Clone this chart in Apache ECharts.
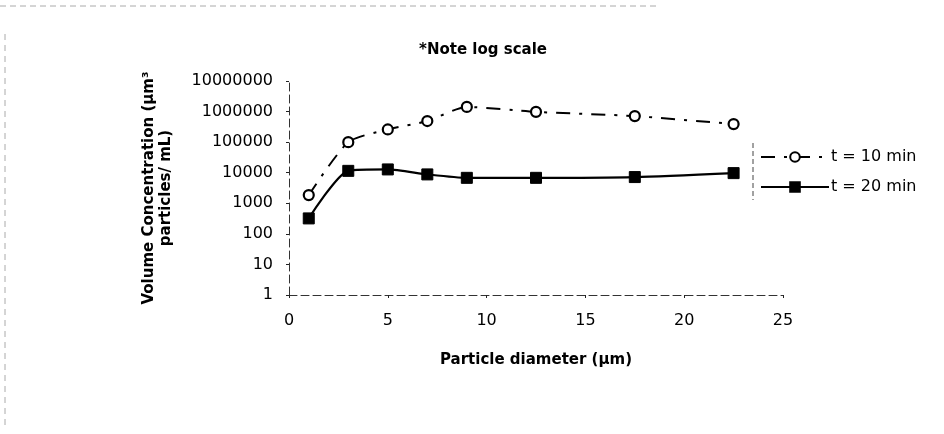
<!DOCTYPE html>
<html>
<head>
<meta charset="utf-8">
<script src="https://cdn.jsdelivr.net/npm/echarts@6/dist/echarts.min.js"></script>
<style>
html,body{margin:0;padding:0;background:#fff;}
#chart{width:944px;height:434px;}
</style>
</head>
<body>
<div id="chart"></div>
<script>
// Data
var diameters = [1, 3, 5, 7, 9, 12.5, 17.5, 22.5];
var conc10 = [1850, 100000, 260000, 490000, 1420000, 980000, 710000, 390000];
var conc20 = [320, 11500, 12800, 8800, 6800, 6800, 7200, 9700];
var seriesNames = ['t = 10 min', 't = 20 min'];
var yTickLabels = ['1', '10', '100', '1000', '10000', '100000', '1000000', '10000000'];
var xTickLabels = ['0', '5', '10', '15', '20', '25'];

function pairs(xs, ys) {
  return xs.map(function (x, i) { return [x, ys[i]]; });
}

var chart = echarts.init(document.getElementById('chart'), null, {renderer: 'canvas'});
var FONT = 'DejaVu Sans';

chart.setOption({
  animation: false,
  backgroundColor: '#ffffff',
  title: {
    text: '*Note log scale',
    left: 478,
    top: 38,
    textAlign: 'center',
    textStyle: {fontFamily: FONT, fontSize: 15, fontWeight: 'bold', color: '#000'}
  },
  grid: {left: 289, right: 161, top: 81, bottom: 139, containLabel: false},
  legend: {
    orient: 'vertical',
    left: 755,
    top: 144,
    itemWidth: 68,
    itemHeight: 12,
    itemGap: 14,
    padding: 5,
    data: seriesNames,
    textStyle: {fontFamily: FONT, fontSize: 16, color: '#000', padding: [0, 0, 0, -3]}
  },
  xAxis: {
    type: 'value',
    min: 0,
    max: 25,
    interval: 5,
    name: 'Particle diameter (\u00b5m)',
    nameLocation: 'middle',
    nameGap: 58,
    nameTextStyle: {fontFamily: FONT, fontSize: 15, fontWeight: 'bold', color: '#000'},
    axisLine: {show: true, onZero: false, lineStyle: {color: '#333', width: 1, type: [8, 4]}},
    axisTick: {show: true, inside: false, length: 3, lineStyle: {color: '#222'}},
    axisLabel: {
      margin: 18,
      fontFamily: FONT, fontSize: 16, color: '#000',
      formatter: function (v) { var i = Math.round(v / 5); return xTickLabels[i] !== undefined ? xTickLabels[i] : ''; }
    },
    splitLine: {show: false}
  },
  yAxis: {
    type: 'log',
    logBase: 10,
    min: 1,
    max: 10000000,
    name: 'Volume Concentration (\u00b5m\u00b3\nparticles/ mL)',
    nameLocation: 'middle',
    nameRotate: 90,
    nameGap: 114,
    nameTextStyle: {fontFamily: FONT, fontSize: 15, fontWeight: 'bold', color: '#000', lineHeight: 17, align: 'center'},
    axisLine: {show: true, lineStyle: {color: '#333', width: 1, type: [8, 4]}},
    axisTick: {show: true, length: 3, lineStyle: {color: '#222'}},
    axisLabel: {
      margin: 16,
      fontFamily: FONT, fontSize: 16, color: '#000',
      formatter: function (v) {
        var i = Math.round(Math.log(v) / Math.LN10);
        return yTickLabels[i] !== undefined ? yTickLabels[i] : '';
      }
    },
    splitLine: {show: false},
    minorTick: {show: false}
  },
  series: [
    {
      name: seriesNames[0],
      type: 'line',
      data: pairs(diameters, conc10),
      smooth: 0.22,
      symbol: 'circle',
      symbolSize: 10,
      lineStyle: {color: '#000', width: 2, type: [14, 9, 3, 9]},
      itemStyle: {color: '#fff', borderColor: '#000', borderWidth: 2.2}
    },
    {
      name: seriesNames[1],
      type: 'line',
      data: pairs(diameters, conc20),
      smooth: 0.22,
      symbol: 'rect',
      symbolSize: 11,
      lineStyle: {color: '#000', width: 2.2, type: 'solid'},
      itemStyle: {color: '#000', borderColor: '#000', borderWidth: 1}
    }
  ],
  graphic: [
    {type: 'line', shape: {x1: 753, y1: 143, x2: 753, y2: 200}, style: {stroke: '#444', lineWidth: 1, lineDash: [5, 3]}},
    {type: 'line', shape: {x1: 0, y1: 6, x2: 660, y2: 6}, style: {stroke: '#aaa', lineWidth: 1, lineDash: [6, 4]}},
    {type: 'line', shape: {x1: 5, y1: 34, x2: 5, y2: 430}, style: {stroke: '#aaa', lineWidth: 1, lineDash: [6, 5]}}
  ]
});
</script>
</body>
</html>
